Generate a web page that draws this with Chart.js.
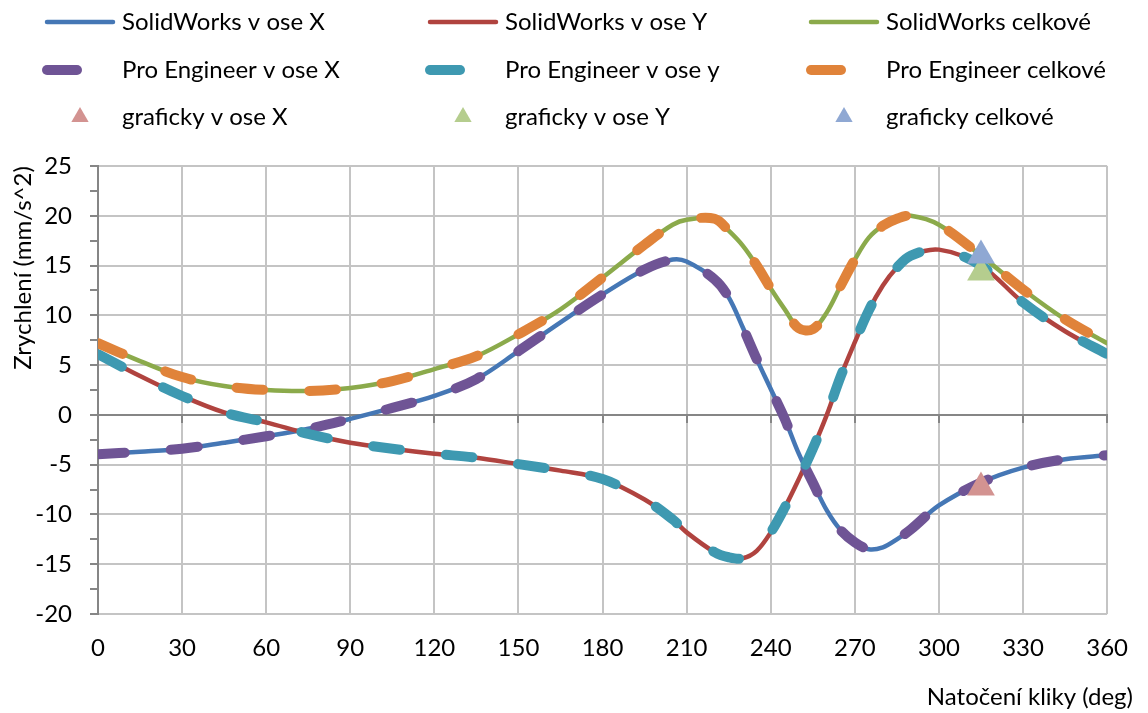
<!DOCTYPE html>
<html><head><meta charset="utf-8">
<script src="https://cdn.jsdelivr.net/npm/chart.js@4.4.1/dist/chart.umd.min.js"></script>
<style>html,body{margin:0;padding:0;background:#fff}#wrap{width:1148px;height:713px;position:relative}</style>
</head><body><div id="wrap"><canvas id="c"></canvas></div>
<script>
// ---- data ----
const angles = [0,15,30,45,60,75,90,105,120,135,150,165,180,195,205,210,220,225,230,235,240,245,250,255,260,265,270,275,280,285,290,300,315,330,345,360];
const swX     = [-3.95,-3.7,-3.4,-2.8,-2.15,-1.4,-0.4,0.7,1.9,3.6,6.4,9.3,12.1,14.6,15.6,15.4,13.6,11.8,8.8,5.6,2.6,-0.4,-3.9,-6.8,-9.6,-11.6,-12.8,-13.5,-13.3,-12.5,-11.5,-9.1,-6.8,-5.3,-4.45,-4.05];
const swY     = [6.1,3.9,1.9,0.25,-0.75,-1.9,-2.8,-3.4,-3.9,-4.3,-4.95,-5.6,-6.45,-8.5,-10.5,-11.8,-13.8,-14.3,-14.4,-13.65,-11.8,-9.3,-6.45,-3.4,0,3.9,7.3,10.5,13,14.8,16.0,16.6,15.0,11.3,8.4,6.1];
const swTotal = [7.2,5.4,3.8,2.9,2.5,2.4,2.7,3.4,4.6,5.9,8.1,10.6,13.8,17.1,19.1,19.6,19.7,18.5,17,15,12.7,10.6,8.7,8.6,10.3,13,15.6,17.8,19,19.7,20,19.1,16,12.6,9.6,7.2];
const proX     = [-3.95,-3.7,-3.4,-2.8,-2.15,-1.4,-0.4,0.7,1.9,3.6,6.4,9.3,12.1,14.6,15.6,15.4,13.6,11.8,8.8,5.6,2.6,-0.4,-3.9,-6.8,-9.6,-11.6,-12.8,-13.5,-13.3,-12.5,-11.5,-9.1,-6.8,-5.3,-4.45,-4.05];
const proY     = [6.1,3.9,1.9,0.25,-0.75,-1.9,-2.8,-3.4,-3.9,-4.3,-4.95,-5.6,-6.45,-8.5,-10.5,-11.8,-13.8,-14.3,-14.4,-13.65,-11.8,-9.3,-6.45,-3.4,0,3.9,7.3,10.5,13,14.8,16.0,16.6,15.0,11.3,8.4,6.1];
const proTotal = [7.2,5.4,3.8,2.9,2.5,2.4,2.7,3.4,4.6,5.9,8.1,10.6,13.8,17.1,19.1,19.6,19.7,18.5,17,15,12.7,10.6,8.7,8.6,10.3,13,15.6,17.8,19,19.7,20,19.1,16,12.6,9.6,7.2];
const grafAngles = [315];
const grafX     = [-7.3];
const grafY     = [14.3];
const grafTotal = [16.0];
const xTickValues = [0,30,60,90,120,150,180,210,240,270,300,330,360];
const seriesNames = ['SolidWorks v ose X','SolidWorks v ose Y','SolidWorks celkové',
                     'Pro Engineer v ose X','Pro Engineer v ose y','Pro Engineer celkové',
                     'graficky v ose X','graficky v ose Y','graficky celkové'];
const xTitle = 'Natočení kliky (deg)';
const yTitle = 'Zrychlení (mm/s^2)';

// ---- styling ----
const FONT_FAMILY = 'Lato, "Open Sans", sans-serif';
const FONT_SIZE = 24;
const colors = ['#4577B5','#B0433F','#8BAA4B','#6F5495','#3E99B1','#E0833A','#D39391','#B5CD8E','#8FA8D3'];

const pts = (xs, ys) => xs.map((a, i) => ({x: a, y: ys[i]}));
const solid = (i, ys) => ({label: seriesNames[i], data: pts(angles, ys), borderColor: colors[i], backgroundColor: colors[i],
  borderWidth: 4.5, borderCapStyle: 'round', borderJoinStyle: 'round', pointRadius: 0, tension: 0.35, fill: false});
const dashed = (i, ys) => ({label: seriesNames[i], data: pts(angles, ys), borderColor: colors[i], backgroundColor: colors[i],
  borderWidth: 10, borderDash: [27, 46], borderCapStyle: 'round', borderJoinStyle: 'round', pointRadius: 0, tension: 0.35, fill: false});
const marker = (i, ys) => ({label: seriesNames[i], data: pts(grafAngles, ys), showLine: false, pointStyle: 'triangle',
  pointRadius: 16, pointBorderWidth: 0, borderColor: colors[i], backgroundColor: colors[i], pointBackgroundColor: colors[i]});

const datasets = [
  solid(0, swX), solid(1, swY), solid(2, swTotal),
  dashed(3, proX), dashed(4, proY), dashed(5, proTotal),
  marker(6, grafX), marker(7, grafY), marker(8, grafTotal)
];
// draw order: solid lines under dashed, markers on top
datasets.forEach((d, i) => { d.order = 10 - i; });

const legendCols = [45, 428, 809];
const legendRows = [22, 70, 117];

const overlay = {
  id: 'overlay',
  afterDraw(chart) {
    const ctx = chart.ctx;
    ctx.save();
    ctx.font = FONT_SIZE + 'px ' + FONT_FAMILY;
    ctx.textBaseline = 'middle';
    chart.data.datasets.forEach((ds, i) => {
      const x0 = legendCols[i % 3], y0 = legendRows[Math.floor(i / 3)];
      ctx.save();
      if (ds.showLine === false) {
        const r = 10, cx = x0 + 35;
        ctx.fillStyle = ds.backgroundColor;
        ctx.beginPath();
        for (let k = 0; k < 3; k++) {
          const a = k * 2 * Math.PI / 3;
          const px = cx + Math.sin(a) * r, py = y0 - Math.cos(a) * r;
          if (k === 0) ctx.moveTo(px, py); else ctx.lineTo(px, py);
        }
        ctx.closePath(); ctx.fill();
      } else if (ds.borderDash) {
        ctx.strokeStyle = ds.borderColor; ctx.lineWidth = ds.borderWidth; ctx.lineCap = 'round';
        ctx.beginPath(); ctx.moveTo(x0 + 2, y0); ctx.lineTo(x0 + 32, y0); ctx.stroke();
      } else {
        ctx.strokeStyle = ds.borderColor; ctx.lineWidth = ds.borderWidth; ctx.lineCap = 'round';
        ctx.beginPath(); ctx.moveTo(x0 + 2, y0); ctx.lineTo(x0 + 68, y0); ctx.stroke();
      }
      ctx.restore();
      ctx.fillStyle = '#000';
      ctx.textAlign = 'left';
      ctx.fillText(ds.label, x0 + 77, y0);
    });
    // axis titles
    ctx.textAlign = 'right';
    ctx.fillText(xTitle, 1133, 697);
    ctx.translate(23, 268);
    ctx.rotate(-Math.PI / 2);
    ctx.textAlign = 'center';
    ctx.fillText(yTitle, 0, 0);
    ctx.restore();
  }
};

const tickFont = {family: FONT_FAMILY, size: FONT_SIZE};
new Chart(document.getElementById('c'), {
  type: 'line',
  data: {datasets},
  plugins: [overlay],
  options: {
    responsive: true, maintainAspectRatio: false, animation: false,
    layout: {padding: {left: 0, right: 38, top: 166, bottom: 0}},
    plugins: {legend: {display: false}, tooltip: {enabled: false}},
    scales: {
      x: {
        type: 'linear', min: 0, max: 360,
        afterBuildTicks: s => { s.ticks = xTickValues.map(v => ({value: v})); },
        grid: {color: '#C4C4C4', lineWidth: 2, drawTicks: false},
        border: {display: false},
        ticks: {font: tickFont, color: '#000', padding: 20, maxRotation: 0, autoSkip: false},
        afterFit: s => { s.height = 99; }
      },
      y: {
        type: 'linear', min: -20, max: 25,
        ticks: {stepSize: 2.5, autoSkip: false, font: tickFont, color: '#000', padding: 18,
          callback: v => (Math.abs(v % 5) < 1e-9 ? String(v) : '')},
        grid: {
          lineWidth: 2, tickLength: 8, tickColor: '#868686',
          color: c => {
            const v = c.tick ? c.tick.value : 1;
            if (Math.abs(v) < 1e-9) return '#868686';
            return Math.abs(v % 5) < 1e-9 ? '#C4C4C4' : 'rgba(0,0,0,0)';
          }
        },
        border: {color: '#868686', width: 2},
        afterFit: s => { s.width = 98; }
      },
      x2: {
        type: 'linear', axis: 'x', position: {y: 0}, min: 0, max: 360,
        afterBuildTicks: s => { s.ticks = xTickValues.map(v => ({value: v})); },
        ticks: {display: false},
        grid: {drawOnChartArea: false, drawTicks: true, tickLength: 7, color: '#868686', lineWidth: 2},
        border: {color: '#868686', width: 2}
      }
    }
  }
});
</script>
</body></html>
